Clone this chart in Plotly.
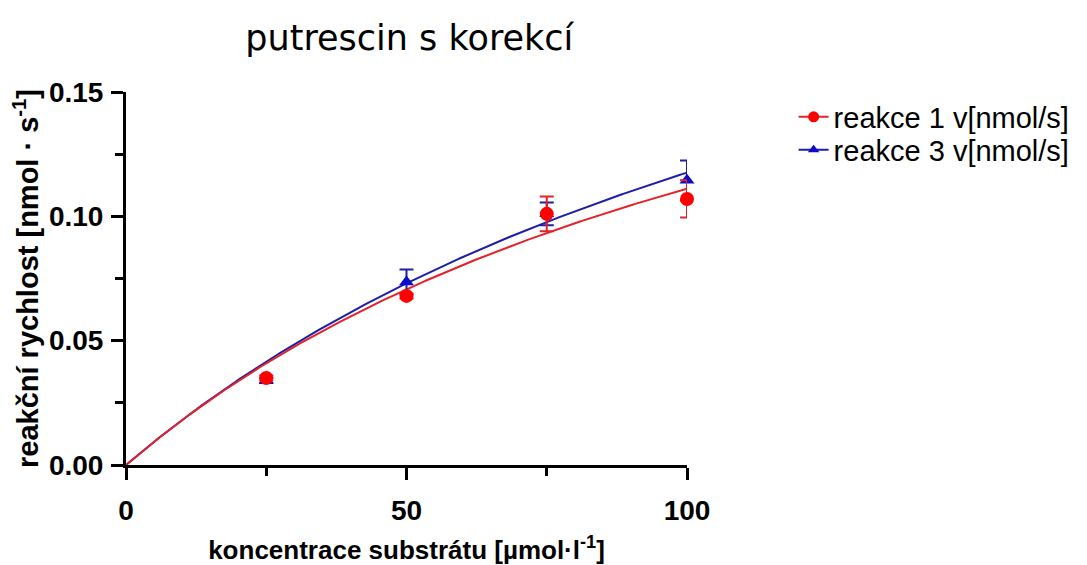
import numpy as np
import plotly.graph_objects as go

# substrate concentrations [µmol/l]
conc = [25, 50, 75, 100]

# measured reaction rates (mean) and their errors
rate_r1 = [0.035, 0.068, 0.101, 0.107]
err_r1 = [0.001, 0.001, 0.007, 0.0075]
rate_r3 = [0.034, 0.0736, 0.101, 0.1145]
err_r3 = [0.001, 0.005, 0.0046, 0.008]

# Michaelis-Menten fit parameters (Vmax [nmol/s], Km [µmol/l])
fit_r1 = {"vmax": 0.260, "km": 134.0}
fit_r3 = {"vmax": 0.301, "km": 156.0}

name_r1 = "reakce 1 v[nmol/s]"
name_r3 = "reakce 3 v[nmol/s]"

red_mark = "#FF0000"
red_line = "#E4222A"
blue_mark = "#0A0AC8"
blue_line = "#1E1EAA"

x_curve = np.linspace(0, 100, 300)


def mm(params, x):
    return params["vmax"] * x / (params["km"] + x)


fig = go.Figure()

# fitted curves (blue below red)
fig.add_trace(go.Scatter(x=x_curve, y=mm(fit_r3, x_curve), mode="lines",
                         line=dict(color=blue_line, width=2), showlegend=False,
                         cliponaxis=False, hoverinfo="skip"))
fig.add_trace(go.Scatter(x=x_curve, y=mm(fit_r1, x_curve), mode="lines",
                         line=dict(color=red_line, width=2), showlegend=False,
                         cliponaxis=False, hoverinfo="skip"))

# measured points with error bars
fig.add_trace(go.Scatter(x=conc, y=rate_r3, mode="markers",
                         marker=dict(symbol="triangle-up", size=13, color=blue_mark),
                         error_y=dict(type="data", array=err_r3, color=blue_line,
                                      thickness=2, width=7),
                         showlegend=False, cliponaxis=False))
fig.add_trace(go.Scatter(x=conc, y=rate_r1, mode="markers",
                         marker=dict(symbol="circle", size=14, color=red_mark),
                         error_y=dict(type="data", array=err_r1, color=red_line,
                                      thickness=2, width=7),
                         showlegend=False, cliponaxis=False))

# legend entries (line + marker), one legend box per row
fig.add_trace(go.Scatter(x=[None], y=[None], mode="lines+markers", name=name_r1,
                         line=dict(color=red_line, width=2),
                         marker=dict(symbol="circle", size=11, color=red_mark),
                         legend="legend"))
fig.add_trace(go.Scatter(x=[None], y=[None], mode="lines+markers", name=name_r3,
                         line=dict(color=blue_line, width=2),
                         marker=dict(symbol="triangle-up", size=10, color=blue_mark),
                         legend="legend2"))

axis_font = dict(family="Liberation Sans, Arial, sans-serif", size=28,
                 color="black", weight="bold")
legend_font = dict(family="Liberation Sans, Arial, sans-serif", size=29,
                   color="black")

fig.update_layout(
    width=1087, height=565,
    margin=dict(l=126, r=400, t=92, b=100),
    paper_bgcolor="white", plot_bgcolor="white",
    title=dict(text="putrescin s korekcí",
               font=dict(family="DejaVu Sans, Verdana, sans-serif", size=35,
                         color="black"),
               x=0.505, xref="paper", xanchor="center",
               y=1 - 38 / 565, yref="container", yanchor="middle"),
    legend=dict(x=1.19, y=(465 - 117) / 373, xanchor="left", yanchor="middle",
                font=legend_font, bgcolor="rgba(0,0,0,0)", itemwidth=30),
    legend2=dict(x=1.19, y=(465 - 150) / 373, xanchor="left", yanchor="middle",
                 font=legend_font, bgcolor="rgba(0,0,0,0)", itemwidth=30),
    xaxis=dict(
        range=[0, 100], showgrid=False, zeroline=False, automargin=False,
        showline=True, linecolor="black", linewidth=3,
        tickmode="array", tickvals=[0, 50, 100], ticktext=["0", "50", "100"],
        ticks="outside", ticklen=12, tickwidth=3, tickcolor="black",
        ticklabelstandoff=6,
        tickfont=axis_font,
        minor=dict(tickmode="array", tickvals=[25, 75], ticks="outside",
                   ticklen=8, tickwidth=3, tickcolor="black", showgrid=False),
        title=dict(text="koncentrace substrátu [µmol·l<sup>-1</sup>]",
                   font=dict(family="Liberation Sans, Arial, sans-serif", size=26,
                             color="black", weight="bold"),
                   standoff=26),
    ),
    yaxis=dict(
        range=[0, 0.15], showgrid=False, zeroline=False, automargin=False,
        showline=True, linecolor="black", linewidth=3,
        tickmode="array", tickvals=[0, 0.05, 0.10, 0.15],
        ticktext=["0.00", "0.05", "0.10", "0.15"],
        ticks="outside", ticklen=12, tickwidth=3, tickcolor="black",
        ticklabelstandoff=2,
        tickfont=axis_font,
        minor=dict(tickmode="array", tickvals=[0.025, 0.075, 0.125], ticks="outside",
                   ticklen=8, tickwidth=3, tickcolor="black", showgrid=False),
        title=dict(text="reakční rychlost [nmol · s<sup>-1</sup>]",
                   font=dict(family="Liberation Sans, Arial, sans-serif", size=29,
                             color="black", weight="bold"),
                   standoff=2),
    ),
)

fig.write_html("out.html")
